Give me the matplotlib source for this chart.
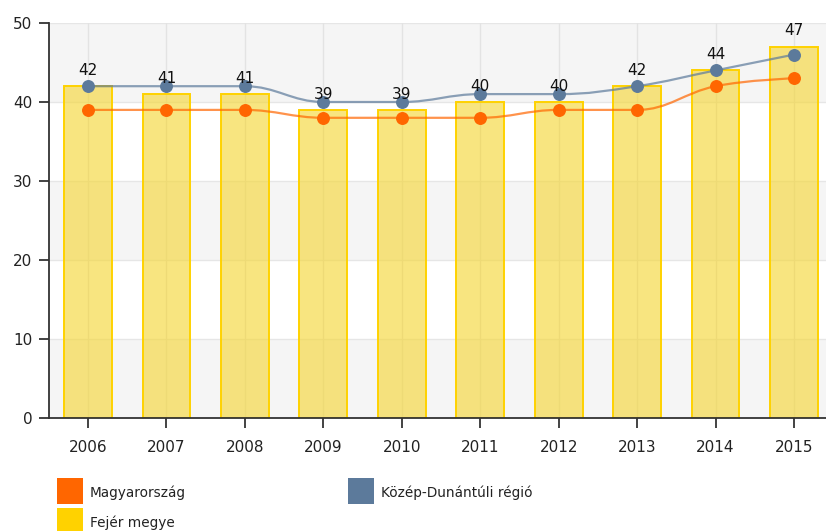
import numpy as np
import matplotlib
matplotlib.use("Agg")
import matplotlib.pyplot as plt
from matplotlib.path import Path
from matplotlib.patches import PathPatch, Rectangle

years = ["2006", "2007", "2008", "2009", "2010", "2011", "2012", "2013", "2014", "2015"]
fejer = [42, 41, 41, 39, 39, 40, 40, 42, 44, 47]
magyarorszag = [39, 39, 39, 38, 38, 38, 39, 39, 42, 43]
kozep_dunantul = [42, 42, 42, 40, 40, 41, 41, 42, 44, 46]

ORANGE = "#FF6600"
BLUE = "#5C7A9B"
GOLD = "#FFD200"


def spline_path(xs, ys, smoothing=1.5, denom=2.5):
    """Smooth curve through the points, built from cubic bezier segments"""
    xs = list(map(float, xs))
    ys = list(map(float, ys))
    n = len(xs)
    verts = [(xs[0], ys[0])]
    codes = [Path.MOVETO]
    prev_right = (xs[0], ys[0])
    for i in range(1, n):
        x, y = xs[i], ys[i]
        if i < n - 1:
            lx = (smoothing * x + xs[i - 1]) / denom
            ly = (smoothing * y + ys[i - 1]) / denom
            rx = (smoothing * x + xs[i + 1]) / denom
            ry = (smoothing * y + ys[i + 1]) / denom
            if rx != lx:
                corr = (ry - ly) * (rx - x) / (rx - lx) + y - ry
                ly += corr
                ry += corr
                if ly > ys[i - 1] and ly > y:
                    ly = max(ys[i - 1], y)
                    ry = 2 * y - ly
                elif ly < ys[i - 1] and ly < y:
                    ly = min(ys[i - 1], y)
                    ry = 2 * y - ly
                if ry > ys[i + 1] and ry > y:
                    ry = max(ys[i + 1], y)
                    ly = 2 * y - ry
                elif ry < ys[i + 1] and ry < y:
                    ry = min(ys[i + 1], y)
                    ly = 2 * y - ry
            left = (lx, ly)
            right = (rx, ry)
        else:
            left = (x, y)
            right = (x, y)
        verts += [prev_right, left, (x, y)]
        codes += [Path.CURVE4] * 3
        prev_right = right
    return Path(verts, codes)


fig = plt.figure(figsize=(8.26, 5.31), dpi=100)
ax = fig.add_axes([48.8 / 826, 113 / 531, 784.4 / 826, 395 / 531])

x = np.arange(len(years))

# alternating background bands
for lo in range(0, 50, 20):
    ax.axhspan(lo, lo + 10, color="#F5F5F5", zorder=0, lw=0)
for yv in range(10, 51, 10):
    ax.axhline(yv, color="#E6E6E6", lw=1, zorder=0.5)
for xv in x:
    ax.axvline(xv, color="#E3E3E3", lw=1, zorder=0.5)

ax.bar(x, fejer, width=0.61, facecolor=(0.96, 0.84, 0.2, 0.62),
       edgecolor=GOLD, linewidth=1.4, zorder=2)
for xi, v in zip(x, fejer):
    ax.annotate(str(v), (xi, v), xytext=(0, 6), textcoords="offset points",
                ha="center", va="bottom", fontsize=11, color="#111111",
                zorder=6)

for vals, col in [(magyarorszag, ORANGE), (kozep_dunantul, BLUE)]:
    ax.add_patch(PathPatch(spline_path(x, vals), fill=False, edgecolor=col,
                           lw=1.6, alpha=0.7, zorder=3))
    ax.plot(x, vals, linestyle="none", marker="o", markersize=8.3,
            color=col, zorder=4)

ax.set_xlim(-0.5, 9.5)
ax.set_ylim(0, 50)
ax.set_xticks(x)
ax.set_xticklabels(years)
ax.set_yticks(range(0, 51, 10))
ax.tick_params(axis="both", labelsize=11, colors="#222222", width=1.2)
ax.tick_params(axis="y", length=7, pad=5)
ax.tick_params(axis="x", length=7, pad=9)
for side in ["top", "right"]:
    ax.spines[side].set_visible(False)
for side in ["left", "bottom"]:
    ax.spines[side].set_color("#333333")
    ax.spines[side].set_linewidth(1.3)

# legend drawn by hand in pixel positions
W, H = 826.0, 531.0
legend_items = [("Magyarország", ORANGE, 57, 478),
                ("Közép-Dunántúli régió", BLUE, 348, 478),
                ("Fejér megye", GOLD, 57, 508)]
for label, col, px, py in legend_items:
    fig.add_artist(Rectangle((px / W, 1 - (py + 26) / H), 26 / W, 26 / H,
                             transform=fig.transFigure, facecolor=col,
                             edgecolor="none"))
    fig.text((px + 33) / W, 1 - (py + 15) / H, label, fontsize=9.8,
             color="#222222", va="center", ha="left")

fig.savefig("out.png", dpi=100)
